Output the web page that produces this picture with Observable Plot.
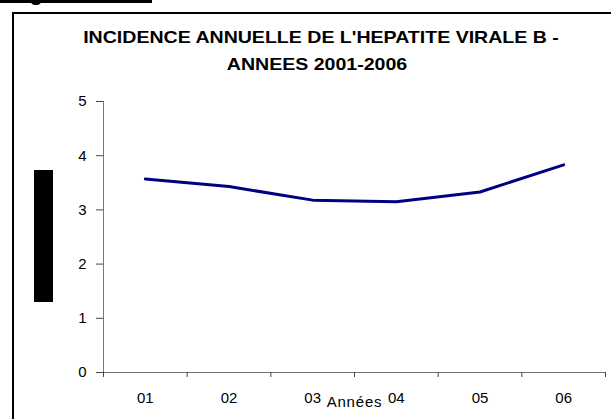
<!DOCTYPE html>
<html>
<head>
<meta charset="utf-8">
<script src="https://cdn.jsdelivr.net/npm/d3@7"></script>
<script src="https://cdn.jsdelivr.net/npm/@observablehq/plot@0.6"></script>
<style>
  html, body { margin: 0; padding: 0; background: #fff; }
  #wrap { position: relative; width: 611px; height: 419px; overflow: hidden; font-family: Arial, "Liberation Sans", sans-serif; }
  #wrap svg { position: absolute; left: 0; top: 0; }
  .abs { position: absolute; }
  .title { font-weight: bold; font-size: 17px; line-height: 1; white-space: nowrap; transform: translateX(-50%) scaleX(1.15); color: #000; }
</style>
</head>
<body>
<div id="wrap">
  <div class="abs" style="left:0;top:0;width:152px;height:8px;overflow:hidden;">
    <div class="abs" style="left:0;top:0;width:152px;height:3px;background:#000;"></div>
    <div class="abs" style="left:10px;top:-18px;font-weight:bold;font-size:22px;line-height:1;white-space:nowrap;">Figure</div>
  </div>
  <div class="abs" style="left:12px;top:12px;width:620px;height:420px;border-top:2px solid #000;border-left:2px solid #000;"></div>
  <div class="abs" style="left:34px;top:170px;width:19px;height:132px;background:#000;"></div>
  <div id="t1" class="abs title" style="left:321px;top:29px;"></div>
  <div id="t2" class="abs title" style="left:317px;top:56px;"></div>
</div>
<script>
const titleLines = ["INCIDENCE ANNUELLE DE L'HEPATITE VIRALE B -", "ANNEES 2001-2006"];
const years = ["01", "02", "03", "04", "05", "06"];
const incidence = [3.57, 3.43, 3.18, 3.15, 3.33, 3.83];
const yTicks = [0, 1, 2, 3, 4, 5];
const xLabel = "Années";

document.getElementById("t1").textContent = titleLines[0];
document.getElementById("t2").textContent = titleLines[1];

const data = years.map((y, i) => ({pos: i + 0.5, label: y, value: incidence[i]}));

const chart = Plot.plot({
  width: 611,
  height: 419,
  marginLeft: 103,
  marginTop: 101,
  marginBottom: 47,
  marginRight: 6,
  style: {fontFamily: "Arial, 'Liberation Sans', sans-serif", fontSize: "15px", background: "transparent", color: "#000", overflow: "visible"},
  x: {type: "linear", domain: [0, years.length]},
  y: {domain: [0, 5]},
  marks: [
    Plot.ruleX([0], {stroke: "#777", strokeWidth: 1}),
    Plot.ruleY([0], {stroke: "#777", strokeWidth: 1}),
    Plot.axisY({ticks: yTicks, tickSize: 7, tickPadding: 10, tickFormat: d => String(d), label: null, fontSize: 15, stroke: "#444", strokeOpacity: 1}),
    Plot.axisX({ticks: d3.range(0, years.length + 1), tickSize: 5, tickFormat: () => "", label: null, stroke: "#444", strokeOpacity: 1}),
    Plot.axisX({ticks: years.map((_, i) => i + 0.5), tickSize: 0, tickPadding: 20, tickFormat: d => years[Math.floor(d)], label: null, fontSize: 15}),
    Plot.text([xLabel], {x: () => years.length / 2, frameAnchor: "bottom", dy: 34, text: d => d, fontSize: 15, fill: "#000"}),
    Plot.line(data, {x: "pos", y: "value", stroke: "#000080", strokeWidth: 3})
  ]
});
const svg = d3.select(chart);
svg.selectAll("text").attr("font-size", 15).attr("fill", "#000");
svg.selectAll("text").filter(function() { return this.textContent === xLabel; }).attr("letter-spacing", "0.8px");
document.getElementById("wrap").prepend(chart);
</script>
</body>
</html>
